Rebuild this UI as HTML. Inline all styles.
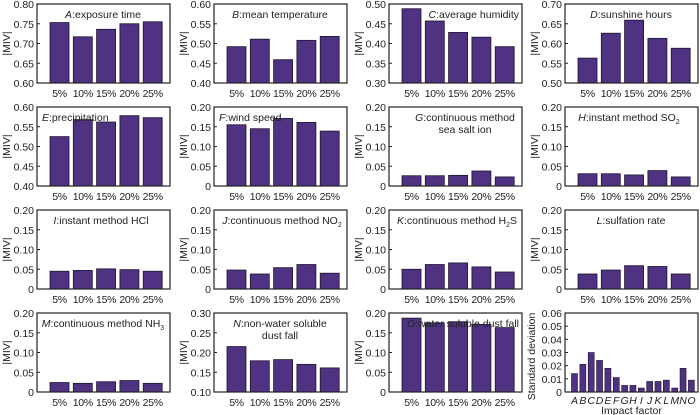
<!DOCTYPE html>
<html><head><meta charset="utf-8"><style>
html,body{margin:0;padding:0;background:#fff;}
svg{display:block;font-family:"Liberation Sans",Arial,sans-serif;}
</style></head><body>
<svg id="chart" width="700" height="415" viewBox="0 0 700 415" xmlns="http://www.w3.org/2000/svg"></svg>
<script>
const categories = ["5%","10%","15%","20%","25%"];
const seriesA = [0.753,0.717,0.736,0.750,0.755];
const seriesB = [0.492,0.511,0.459,0.508,0.518];
const seriesC = [0.488,0.457,0.428,0.416,0.392];
const seriesD = [0.563,0.626,0.659,0.613,0.588];
const seriesE = [0.525,0.568,0.562,0.578,0.573];
const seriesF = [0.155,0.145,0.171,0.161,0.139];
const seriesG = [0.026,0.026,0.027,0.038,0.023];
const seriesH = [0.031,0.031,0.028,0.039,0.023];
const seriesI = [0.045,0.047,0.051,0.049,0.045];
const seriesJ = [0.048,0.038,0.054,0.062,0.040];
const seriesK = [0.050,0.062,0.066,0.056,0.043];
const seriesL = [0.038,0.048,0.059,0.057,0.038];
const seriesM = [0.024,0.022,0.026,0.029,0.022];
const seriesN = [0.215,0.179,0.182,0.170,0.161];
const seriesO = [0.187,0.175,0.178,0.171,0.163];
const sdCategories = ["A","B","C","D","E","F","G","H","I","J","K","L","M","N","O"];
const sdValues = [0.014,0.021,0.030,0.024,0.018,0.011,0.005,0.005,0.003,0.008,0.008,0.009,0.003,0.018,0.009];
const ticks080 = ["0.60","0.65","0.70","0.75","0.80"];
const ticks060 = ["0.40","0.45","0.50","0.55","0.60"];
const ticks050 = ["0.30","0.35","0.40","0.45","0.50"];
const ticks070 = ["0.50","0.55","0.60","0.65","0.70"];
const ticks020 = ["0","0.05","0.10","0.15","0.20"];
const ticks030 = ["0.10","0.15","0.20","0.25","0.30"];
const sdTicks = ["0","0.01","0.02","0.03","0.04","0.05","0.06"];

const NS="http://www.w3.org/2000/svg";
const svg=document.getElementById('chart');
function mk(tag,attrs,parent){const e=document.createElementNS(NS,tag);for(const k in attrs)e.setAttribute(k,attrs[k]);(parent||svg).appendChild(e);return e;}
const cols=[37,214,389,565], rows=[4,107,210,313], W=133, H=79;
const FILL="#4f3282", STROKE="#1e1430", FS=10.5;

const panels=[
 {key:"A",txt:"exposure time",vals:seriesA,ticks:ticks080,r:0,c:0,tx:66,anchor:"middle"},
 {key:"B",txt:"mean temperature",vals:seriesB,ticks:ticks060,r:0,c:1,tx:66,anchor:"middle"},
 {key:"C",txt:"average humidity",vals:seriesC,ticks:ticks050,r:0,c:2,tx:130,anchor:"end"},
 {key:"D",txt:"sunshine hours",vals:seriesD,ticks:ticks070,r:0,c:3,tx:66,anchor:"middle"},
 {key:"E",txt:"precipitation",vals:seriesE,ticks:ticks060,r:1,c:0,tx:5,anchor:"start"},
 {key:"F",txt:"wind speed",vals:seriesF,ticks:ticks020,r:1,c:1,tx:5,anchor:"start"},
 {key:"G",txt:"continuous method",txt2:"sea salt ion",vals:seriesG,ticks:ticks020,r:1,c:2,tx:76,anchor:"middle"},
 {key:"H",txt:"instant method SO",sub:"2",vals:seriesH,ticks:ticks020,r:1,c:3,tx:64,anchor:"middle"},
 {key:"I",txt:"instant method HCl",vals:seriesI,ticks:ticks020,r:2,c:0,tx:64,anchor:"middle"},
 {key:"J",txt:"continuous method NO",sub:"2",vals:seriesJ,ticks:ticks020,r:2,c:1,tx:68,anchor:"middle"},
 {key:"K",txt:"continuous method H",sub:"2",tail:"S",vals:seriesK,ticks:ticks020,r:2,c:2,tx:68,anchor:"middle"},
 {key:"L",txt:"sulfation rate",vals:seriesL,ticks:ticks020,r:2,c:3,tx:66,anchor:"middle"},
 {key:"M",txt:"continuous method NH",sub:"3",vals:seriesM,ticks:ticks020,r:3,c:0,tx:66,anchor:"middle"},
 {key:"N",txt:"non-water soluble",txt2:"dust fall",vals:seriesN,ticks:ticks030,r:3,c:1,tx:66,anchor:"middle"},
 {key:"O",txt:"water soluble dust fall",vals:seriesO,ticks:ticks020,r:3,c:2,tx:130,anchor:"end"}
];

panels.forEach(p=>{
  const x0=cols[p.c], y0=rows[p.r];
  const g=mk('g',{});
  
  
  const lo=parseFloat(p.ticks[0]), hi=parseFloat(p.ticks[p.ticks.length-1]);
  const ys=v=>y0+H-(v-lo)/(hi-lo)*H;
  const xs=i=>x0+22.5+i*23.3;
  p.vals.forEach((v,i)=>{
    const y=ys(v);
    const b=mk('rect',{x:xs(i)-9.5,y:y,width:19,height:y0+H-y,fill:FILL,stroke:STROKE,'stroke-width':0.8},g);
    
    
  });
  const fr=mk('rect',{x:x0,y:y0,width:W,height:H,fill:'none',stroke:'#222','stroke-width':1.2},g);
  
  
  p.ticks.forEach((t,i)=>{
    const y=ys(parseFloat(t));
    mk('line',{x1:x0,x2:x0+3,y1:y,y2:y,stroke:'#222','stroke-width':1},g);
    const tl=mk('text',{x:x0-3,y:y+4,'font-size':FS,'text-anchor':'end',fill:'#222'},g);
    tl.textContent=t;
    
    
  });
  categories.forEach((c,i)=>{
    const tl=mk('text',{x:xs(i),y:y0+H+14,'font-size':FS,'letter-spacing':-0.3,'text-anchor':'middle',fill:'#222'},g);
    tl.textContent=c;
    
    
  });
  const yl=mk('text',{x:0,y:0,'font-size':FS,'text-anchor':'middle',fill:'#222',transform:`translate(${x0-27},${y0+H/2}) rotate(-90)`},g);
  yl.textContent='|MIV|';
  
  
  const tt=mk('text',{x:x0+p.tx,y:y0+14,'font-size':FS,'text-anchor':p.anchor,fill:'#222'},g);
  
  
  const ts=mk('tspan',{'font-style':'italic'},tt); ts.textContent=p.key;
  const t2=mk('tspan',{},tt); t2.textContent=':'+p.txt;
  if(p.sub){const s=mk('tspan',{'font-size':7,dy:3},tt); s.textContent=p.sub;}
  if(p.tail){const s=mk('tspan',{dy:-3},tt); s.textContent=p.tail;}
  if(p.txt2){const l2=mk('text',{x:x0+p.tx,y:y0+26,'font-size':FS,'text-anchor':'middle',fill:'#222'},g); l2.textContent=p.txt2;
    
    }
});

(function(){
  const x0=cols[3], y0=rows[3];
  const g=mk('g',{});
  
  
  const lo=0, hi=0.06;
  const ys=v=>y0+H-(v-lo)/(hi-lo)*H;
  const xs=i=>x0+9.5+i*8.35;
  sdValues.forEach((v,i)=>{
    const y=ys(v);
    const b=mk('rect',{x:xs(i)-3,y:y,width:6,height:y0+H-y,fill:FILL,stroke:STROKE,'stroke-width':0.6},g);
    
    
  });
  const fr=mk('rect',{x:x0,y:y0,width:W,height:H,fill:'none',stroke:'#222','stroke-width':1.2},g);
  
  
  sdTicks.forEach(t=>{
    const y=ys(parseFloat(t));
    mk('line',{x1:x0,x2:x0+3,y1:y,y2:y,stroke:'#222','stroke-width':1},g);
    const tl=mk('text',{x:x0-3,y:y+4,'font-size':FS,'text-anchor':'end',fill:'#222'},g);
    tl.textContent=t;
    
    
  });
  sdCategories.forEach((c,i)=>{
    const tl=mk('text',{x:xs(i),y:y0+H+12,'font-size':FS,'font-style':'italic','text-anchor':'middle',fill:'#222'},g);
    tl.textContent=c;
    
    
  });
  const xl=mk('text',{x:x0+W/2,y:y0+H+22,'font-size':FS,'text-anchor':'middle',fill:'#222'},g);
  xl.textContent='Impact factor';
  
  
  const yl=mk('text',{x:0,y:0,'font-size':FS,'text-anchor':'middle',fill:'#222',transform:`translate(${x0-30},${y0+H/2+4}) rotate(-90)`},g);
  yl.textContent='Standard deviation';
  
  
})();
</script>
</body></html>
